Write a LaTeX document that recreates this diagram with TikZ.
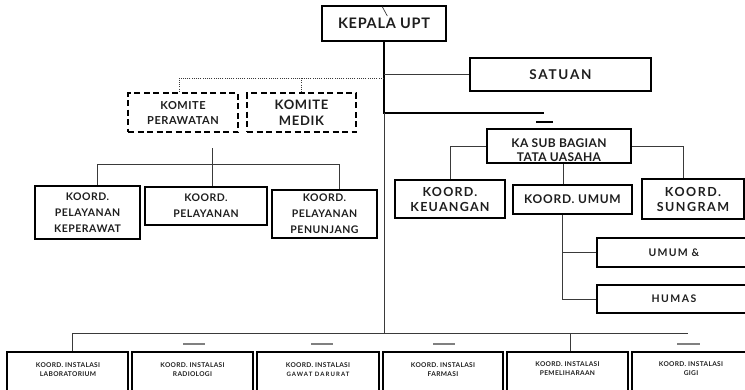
\documentclass[tikz,border=0pt]{standalone}
\usepackage{fontspec}
\setmainfont{Lato}[LetterSpace=5]
\definecolor{ink}{HTML}{1E1E1E}
\definecolor{wire}{HTML}{3A3A3A}
\begin{document}
\begin{tikzpicture}[x=1pt,y=-1pt,
  box/.style={draw=black, line width=2pt, inner sep=0pt, align=center, text=ink},
  heavybox/.style={box, line width=2.8pt},
  dashbox/.style={box, line width=1.8pt, dash pattern=on 6pt off 3.5pt},
  lbl/.style={text=ink, align=center, inner sep=0pt},
  instbox/.style={draw=black, line width=2.6pt, inner sep=0pt, minimum width=#1, minimum height=50pt},
  insttext/.style={text=ink, align=center, inner sep=0pt, font=\fontsize{6.6}{9}\selectfont\bfseries},
  wirel/.style={draw=wire, line width=0.9pt},
  spine/.style={draw=black, line width=2.6pt},
  dotwire/.style={draw=wire, line width=0.9pt, dash pattern=on 1pt off 1.2pt},
  stub/.style={draw=gray, line width=1.4pt},
]
\useasboundingbox (0,0) rectangle (745,389);
\clip (0,0) rectangle (745,389);

% top level
\node[heavybox, minimum width=124pt, minimum height=35pt, font=\fontsize{14.5}{16}\selectfont\bfseries] (kepala) at (384,23.5) {KEPALA UPT};
\node[box, line width=1.6pt, minimum width=181pt, minimum height=33pt, font=\fontsize{13.5}{16}\selectfont\bfseries\addfontfeature{LetterSpace=13}] (satuan) at (560.5,74.5) {SATUAN};

% committees
\node[dashbox, minimum width=110pt, minimum height=39pt, font=\fontsize{11}{15}\selectfont\bfseries] (kperawatan) at (183,112.5) {KOMITE\\PERAWATAN};
\node[dashbox, minimum width=109pt, minimum height=39pt, font=\fontsize{13}{16}\selectfont\bfseries] (kmedik) at (301.5,112.5) {KOMITE\\MEDIK};

% service coordinators
\node[box, line width=2.2pt, minimum width=105pt, minimum height=53pt, font=\fontsize{10.5}{16}\selectfont\bfseries] (keperawat) at (87.5,212.5) {KOORD.\\PELAYANAN\\KEPERAWAT};
\node[box, line width=1.8pt, minimum width=122pt, minimum height=38pt, font=\fontsize{10.5}{16}\selectfont\bfseries] (pelayanan) at (206,206) {KOORD.\\PELAYANAN};
\node[box, line width=1.8pt, minimum width=105pt, minimum height=48pt, font=\fontsize{10.5}{16}\selectfont\bfseries] (penunjang) at (324.5,214) {KOORD.\\PELAYANAN\\PENUNJANG};

% administration branch
\node[heavybox, line width=2.5pt, minimum width=144pt, minimum height=34pt] (kasub) at (559,146) {};
\node[lbl, font=\fontsize{12}{14}\selectfont\bfseries\addfontfeature{LetterSpace=3}] (kasubt) at (559,150.5) {KA SUB BAGIAN\\TATA UASAHA};
\node[box, minimum width=110pt, minimum height=38pt, font=\fontsize{12.5}{15}\selectfont\bfseries\addfontfeature{LetterSpace=10}] (keuangan) at (450,199) {KOORD.\\KEUANGAN};
\node[box, line width=1.8pt, minimum width=119pt, minimum height=29pt, font=\fontsize{12}{14}\selectfont\bfseries\addfontfeature{LetterSpace=6}] (umum) at (572.5,199.5) {KOORD. UMUM};
\node[box, minimum width=102pt, minimum height=40pt, font=\fontsize{12.5}{15}\selectfont\bfseries\addfontfeature{LetterSpace=12}] (sungram) at (693,199) {KOORD.\\SUNGRAM};
\node[box, minimum width=154pt, minimum height=29pt, font=\fontsize{10.5}{14}\selectfont\bfseries\addfontfeature{LetterSpace=12}] (umumdan) at (674,252.5) {UMUM \&};
\node[box, minimum width=154pt, minimum height=28pt, font=\fontsize{10.5}{14}\selectfont\bfseries\addfontfeature{LetterSpace=14}] (humas) at (674,299) {HUMAS};

% installation coordinators
\node[instbox=121pt] (lab) at (67.5,377) {};
\node[instbox=121pt] (rad) at (192.5,377) {};
\node[instbox=122pt] (igd) at (318,377) {};
\node[instbox=120pt] (far) at (443,377) {};
\node[instbox=121pt] (pem) at (567.5,377) {};
\node[instbox=118pt] (gigi) at (691,377) {};
\node[insttext] (labt) at (68,369.5) {KOORD. INSTALASI\\LABORATORIUM};
\node[insttext] (radt) at (192.5,369.5) {KOORD. INSTALASI\\RADIOLOGI};
\node[insttext] (igdt) at (318,369.5) {KOORD. INSTALASI\\{\fontsize{6}{9}\selectfont\addfontfeature{LetterSpace=18}GAWAT DARURAT}};
\node[insttext] (fart) at (443,369.5) {KOORD. INSTALASI\\FARMASI};
\node[insttext] (pemt) at (567.5,368.5) {KOORD. INSTALASI\\PEMELIHARAAN};
\node[insttext] (gigit) at (691,368.5) {KOORD. INSTALASI\\GIGI};

% main spine
\coordinate (elbow) at (kepala.south |- 0,113);
\coordinate (busL) at (72,333);
\coordinate (busR) at (688,333);
\draw[spine] (kepala.south) -- (elbow) -- (544,113);
\draw[stub, draw=black, line width=2.4pt] (536,122) -- (553,122);
\draw[wirel] (elbow) -- (elbow |- busL);
\draw[wirel, line width=0.7pt] (382.3,6.7) -- (387.3,16);
\draw[wirel] (kepala.south |- satuan.west) -- (satuan.west);

% committees link
\coordinate (dotL) at (179,78);
\draw[dotwire] (elbow |- dotL) -- (dotL) -- (dotL |- kperawatan.north);
\draw[dotwire] (kmedik.north |- dotL) -- (kmedik.north);

% service coordinators bus
\coordinate (svcTop) at (212,148);
\coordinate (svcL) at (97,164);
\coordinate (svcR) at (339,164);
\draw[wirel] (svcTop) -- (svcTop |- svcL);
\draw[wirel] (svcL) -- (svcR);
\draw[wirel] (svcL) -- (svcL |- keperawat.north);
\draw[wirel] (svcTop |- svcL) -- (svcTop |- pelayanan.north);
\draw[wirel] (svcR) -- (svcR |- penunjang.north);

% administration links
\draw[wirel] (kasub.west) -| (keuangan.north);
\draw[wirel] (kasub.east) -| ([xshift=-10pt]sungram.north);
\draw[wirel] ([xshift=4pt]kasub.south) -- ([xshift=4pt]kasub.south |- umum.north);
\coordinate (u) at ([xshift=-10.5pt]umum.south);
\draw[wirel] (u) |- (humas.west);
\draw[wirel] (u |- umumdan.west) -- (umumdan.west);

% installations bus
\draw[wirel] (busL) -- (busR);
\draw[wirel] (busL) -- (busL |- lab.north);
\draw[wirel] (busL -| 570,0) -- (570,0 |- pem.north);
\draw[stub] (183,344) -- (205,344);
\draw[stub] (311,344) -- (333,344);
\draw[stub] (433,344) -- (455,344);
\draw[stub] (677,344) -- (700,344);
\end{tikzpicture}
\end{document}
